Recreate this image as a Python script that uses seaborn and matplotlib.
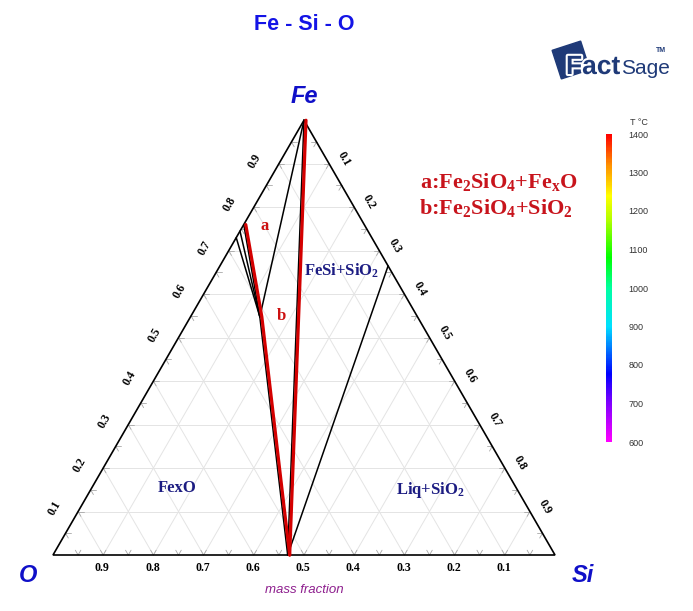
import numpy as np
import pandas as pd
import matplotlib
matplotlib.use("Agg")
import matplotlib.pyplot as plt
import matplotlib.transforms as mtransforms
import matplotlib.patheffects as pe
from matplotlib.colors import LinearSegmentedColormap, Normalize
from matplotlib.cm import ScalarMappable
from matplotlib.patches import Polygon
import seaborn as sns

# ---------------- data ----------------
phase_names = ["Fe", "SiO2", "Fe2SiO4", "FeSi", "FexO_1", "FexO_2", "FexO_3"]
fe_frac = [1.0, 0.0, 0.548, 0.665, 0.760, 0.745, 0.730]
si_frac = [0.0, 0.4675, 0.138, 0.335, 0.0, 0.0, 0.0]

black_ties = [("Fe", "SiO2"), ("Fe", "Fe2SiO4"), ("Fe2SiO4", "SiO2"), ("FeSi", "SiO2"),
              ("FexO_1", "Fe2SiO4"), ("FexO_2", "Fe2SiO4"), ("FexO_3", "Fe2SiO4")]
red_paths = [["Fe", "SiO2"], ["FexO_1", "Fe2SiO4", "SiO2"]]

axis_ticks = [0.1, 0.2, 0.3, 0.4, 0.5, 0.6, 0.7, 0.8, 0.9]
tick_labels = ["0.1", "0.2", "0.3", "0.4", "0.5", "0.6", "0.7", "0.8", "0.9"]
cbar_ticks = [600, 700, 800, 900, 1000, 1100, 1200, 1300, 1400]

region_labels = ["FexO", r"FeSi+SiO$_{\mathrm{2}}$", r"Liq+SiO$_{\mathrm{2}}$"]
legend_lines = [r"a:Fe$_{\mathrm{2}}$SiO$_{\mathrm{4}}$+Fe$_{\mathrm{x}}$O",
                r"b:Fe$_{\mathrm{2}}$SiO$_{\mathrm{4}}$+SiO$_{\mathrm{2}}$"]

# ---------------- style ----------------
sns.set_theme(style="white")
plt.rcParams["font.family"] = ["Liberation Sans", "DejaVu Sans"]
plt.rcParams["mathtext.fontset"] = "custom"
plt.rcParams["mathtext.rm"] = "Liberation Serif:bold"
plt.rcParams["mathtext.bf"] = "Liberation Serif:bold"
plt.rcParams["mathtext.it"] = "Liberation Serif:bold:italic"

SQ3 = np.sqrt(3) / 2


def cart(fe, si):
    fe = np.asarray(fe, float)
    si = np.asarray(si, float)
    return si + fe / 2.0, fe * SQ3


comp = {n: (f, s) for n, f, s in zip(phase_names, fe_frac, si_frac)}

# pixel helpers (figure laid out so triangle base spans 502 px)
X0, Y0, SC = 53.0, 555.0, 502.0


def PX(px):
    return (px - X0) / SC


def PY(py):
    return (Y0 - py) / SC


fig = plt.figure(figsize=(6.93, 6.11), dpi=100)
ax = fig.add_axes([0, 0, 1, 1])
ax.set_xlim(PX(0), PX(693))
ax.set_ylim(PY(611), PY(0))
ax.axis("off")

# grid lines
gcol = "#e4e4e4"
for k in axis_ticks:
    for (f1, s1), (f2, s2) in [((k, 0), (k, 1 - k)), ((0, k), (1 - k, k)), ((1 - k, 0), (0, 1 - k))]:
        xa, ya = cart([f1, f2], [s1, s2])
        ax.plot(xa, ya, color=gcol, lw=0.7, zorder=1)

# small v ticks every 0.05 along edges
tl = 0.011
tcol = "#a8a8a8"
dirs = {"bottom": [(0.5, SQ3), (-0.5, SQ3)], "left": [(1, 0), (0.5, -SQ3)], "right": [(-1, 0), (-0.5, -SQ3)]}
for v in np.arange(0.05, 1.0, 0.05):
    pts = {"bottom": cart(0, v), "left": cart(v, 0), "right": cart(1 - v, v)}
    for side, (px0, py0) in pts.items():
        for dx, dy in dirs[side]:
            ax.plot([px0, px0 + tl * dx], [py0, py0 + tl * dy], color=tcol, lw=0.6, zorder=1)

# triangle frame
xt, yt = cart([1, 0, 0, 1], [0, 0, 1, 0])
ax.plot(xt, yt, color="black", lw=1.2, zorder=3, solid_joinstyle="miter")

# tie lines
rows = []
for i, (a, b) in enumerate(black_ties):
    for n in (a, b):
        x, y = cart(*comp[n])
        rows.append({"x": float(x), "y": float(y), "seg": i})
df_black = pd.DataFrame(rows)
sns.lineplot(data=df_black, x="x", y="y", units="seg", estimator=None, sort=False,
             color="black", lw=1.1, legend=False, ax=ax, zorder=4)

rows = []
for i, path in enumerate(red_paths):
    for n in path:
        x, y = cart(*comp[n])
        rows.append({"x": float(x), "y": float(y), "seg": i})
df_red = pd.DataFrame(rows)
red_tr = mtransforms.offset_copy(ax.transData, fig=fig, x=2.0, y=0.0, units="dots")
sns.lineplot(data=df_red, x="x", y="y", units="seg", estimator=None, sort=False,
             color="#d40000", lw=2.3, legend=False, ax=ax, zorder=5, transform=red_tr)

ax.set_xlabel("")
ax.set_ylabel("")
ax.set_xlim(PX(0), PX(693))
ax.set_ylim(PY(611), PY(0))
ax.axis("off")

# axis tick labels
tfont = dict(family="Liberation Serif", weight="bold", fontsize=8.5, color="black")
for v, lab in zip(axis_ticks, tick_labels):
    # left (Fe)
    x, y = cart(v, 0)
    ax.text(x - 24 / SC, y + 3 / SC, lab, rotation=60, ha="center", va="center", **tfont)
    # right (Si)
    x, y = cart(1 - v, v)
    ax.text(x + 15 / SC, y + 5 / SC, lab, rotation=-60, ha="center", va="center", **tfont)
    # bottom (O)
    x, y = cart(0, 1 - v)
    ax.text(x - 1 / SC, y - 13 / SC, lab, ha="center", va="center", **tfont)

# corner labels
cfont = dict(family="Liberation Sans", weight="bold", style="italic", color="#1010c8")
ax.text(PX(304), PY(97), "Fe", ha="center", va="center", fontsize=17, **cfont)
ax.text(PX(28), PY(576), "O", ha="center", va="center", fontsize=17, **cfont)
ax.text(PX(583), PY(576), "Si", ha="center", va="center", fontsize=17, **cfont)

ax.text(PX(304), PY(590), "mass fraction", ha="center", va="center", fontsize=9.5,
        style="italic", color="#8e1f8e", family="Liberation Sans")

ax.text(PX(304), PY(25), "Fe - Si - O", ha="center", va="center", fontsize=15.5,
        weight="bold", color="#1414e6", family="Liberation Sans")

# region labels
rfont = dict(family="Liberation Serif", weight="bold", fontsize=12, color="#1c1c82")
ax.text(PX(177), PY(488), region_labels[0], ha="center", va="center", **rfont)
ax.text(PX(342), PY(271), region_labels[1], ha="center", va="center", **rfont)
ax.text(PX(430), PY(490), region_labels[2], ha="center", va="center", **rfont)

# a / b markers
mfont = dict(family="Liberation Serif", weight="bold", fontsize=12, color="#cc1111")
ax.text(PX(265), PY(226), "a", ha="center", va="center", **mfont)
ax.text(PX(281), PY(316), "b", ha="center", va="center", **mfont)

# legend text
lfont = dict(family="Liberation Serif", weight="bold", fontsize=16, color="#c8141c")
ax.text(PX(420), PY(182), legend_lines[0], ha="left", va="center", **lfont)
ax.text(PX(419), PY(208), legend_lines[1], ha="left", va="center", **lfont)

# logo
navy = "#1f3a78"
cx, cy, hs = PX(571), PY(60), 15 / SC
ang = np.deg2rad(18)
corners = []
for dx, dy in [(-1, -1), (1, -1), (1, 1), (-1, 1)]:
    rx = dx * np.cos(ang) - dy * np.sin(ang)
    ry = dx * np.sin(ang) + dy * np.cos(ang)
    corners.append((cx + hs * rx, cy + hs * ry))
ax.add_patch(Polygon(corners, closed=True, color=navy, zorder=6))
ax.text(PX(566), PY(74), "Fact", ha="left", va="baseline", fontsize=19, weight="bold",
        color=navy, family="Liberation Sans", zorder=7,
        path_effects=[pe.Stroke(linewidth=3, foreground="white"), pe.Normal()])
ax.text(PX(621), PY(74), "Sage", ha="left", va="baseline", fontsize=15,
        color=navy, family="Liberation Sans", zorder=7)
ax.text(PX(656), PY(52), "TM", ha="left", va="baseline", fontsize=5, weight="bold",
        color=navy, family="Liberation Sans", zorder=7)

# temperature colour bar
cmap = LinearSegmentedColormap.from_list(
    "tcol",
    [(0.0, "#ff00ff"), (0.125, "#8000ff"), (0.22, "#0000ff"), (0.375, "#00e0ff"),
     (0.5, "#00ffa0"), (0.6, "#00ff00"), (0.72, "#b0ff00"), (0.8, "#ffff00"),
     (0.9, "#ff9000"), (1.0, "#ff0000")])
cax = fig.add_axes([606 / 693, (611 - 442) / 611, 6 / 693, 308 / 611])
sm = ScalarMappable(norm=Normalize(600, 1400), cmap=cmap)
cb = fig.colorbar(sm, cax=cax, ticks=cbar_ticks)
cb.outline.set_visible(False)
cax.tick_params(length=0, pad=12, labelsize=6.5, labelcolor="#333333")
for t in cax.get_yticklabels():
    t.set_family("Liberation Sans")
ax.text(PX(639), PY(123), "T °C", ha="center", va="center", fontsize=6.5, color="#333333",
        family="Liberation Sans")

fig.savefig("out.png", dpi=100)
